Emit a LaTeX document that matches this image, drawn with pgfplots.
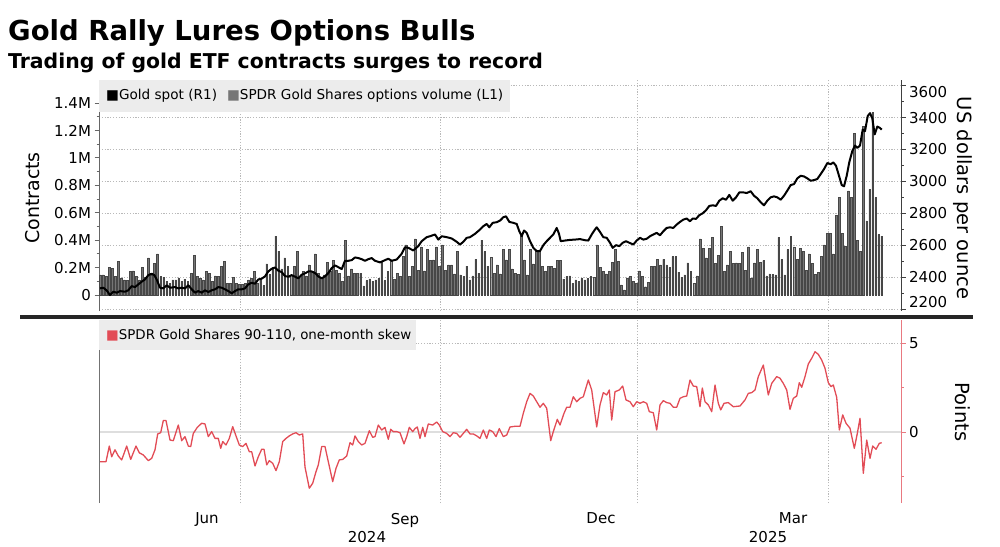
\documentclass[border=0pt]{standalone}
\usepackage{fontspec}
\setmainfont{DejaVu Sans}
\usepackage{pgfplots}
\usepackage{pgfplotstable}
\pgfplotsset{compat=1.18}
\definecolor{skewred}{RGB}{226,76,86}
\definecolor{legbg}{RGB}{236,236,236}
\definecolor{bargray}{RGB}{118,118,118}
\definecolor{gridgray}{RGB}{185,185,185}

% SPDR Gold Shares options volume (millions of contracts), one bar per trading day
\pgfplotstableread[row sep=\\]{v\\
0.146\\ 0.146\\ 0.134\\ 0.20\\ 0.195\\ 0.134\\ 0.244\\ 0.122\\ 0.11\\ 0.105\\
0.17\\ 0.176\\ 0.134\\ 0.11\\ 0.20\\ 0.13\\ 0.27\\ 0.146\\ 0.23\\ 0.30\\
0.134\\ 0.13\\ 0.10\\ 0.085\\ 0.11\\ 0.11\\ 0.12\\ 0.10\\ 0.115\\ 0.10\\
0.16\\ 0.29\\ 0.134\\ 0.12\\ 0.11\\ 0.17\\ 0.16\\ 0.10\\ 0.14\\ 0.134\\
0.21\\ 0.244\\ 0.085\\ 0.085\\ 0.127\\ 0.085\\ 0.078\\ 0.078\\ 0.085\\ 0.11\\
0.12\\ 0.17\\ 0.085\\ 0.115\\ 0.068\\ 0.227\\ 0.15\\ 0.20\\ 0.43\\ 0.32\\
0.19\\ 0.27\\ 0.21\\ 0.146\\ 0.21\\ 0.32\\ 0.134\\ 0.17\\ 0.14\\ 0.22\\
0.17\\ 0.30\\ 0.16\\ 0.12\\ 0.146\\ 0.24\\ 0.17\\ 0.25\\ 0.18\\ 0.16\\
0.10\\ 0.40\\ 0.14\\ 0.19\\ 0.16\\ 0.16\\ 0.16\\ 0.066\\ 0.105\\ 0.117\\
0.10\\
0.11\\ 0.12\\ 0.244\\ 0.105\\ 0.17\\ 0.244\\ 0.115\\ 0.16\\ 0.134\\ 0.28\\
0.366\\ 0.134\\ 0.21\\ 0.41\\ 0.18\\ 0.35\\ 0.175\\ 0.33\\ 0.25\\ 0.256\\
0.35\\ 0.21\\ 0.366\\ 0.178\\ 0.22\\ 0.22\\ 0.154\\ 0.317\\ 0.146\\ 0.134\\
0.21\\ 0.11\\ 0.14\\ 0.26\\ 0.16\\ 0.40\\ 0.317\\ 0.21\\ 0.276\\ 0.16\\
0.22\\ 0.154\\ 0.33\\ 0.256\\ 0.33\\ 0.19\\ 0.16\\ 0.15\\ 0.43\\ 0.256\\
0.146\\ 0.33\\ 0.227\\ 0.324\\ 0.324\\ 0.21\\ 0.17\\ 0.21\\ 0.21\\ 0.195\\
0.25\\ 0.25\\ 0.115\\ 0.134\\ 0.14\\ 0.085\\ 0.11\\ 0.10\\ 0.12\\ 0.11\\
0.12\\ 0.134\\ 0.127\\ 0.366\\ 0.20\\ 0.17\\ 0.154\\ 0.17\\ 0.24\\ 0.334\\
0.244\\ 0.073\\ 0.037\\ 0.12\\ 0.134\\ 0.10\\ 0.085\\ 0.175\\ 0.134\\ 0.06\\
0.09\\
0.21\\ 0.21\\ 0.26\\ 0.22\\ 0.26\\ 0.22\\ 0.20\\ 0.28\\ 0.28\\ 0.166\\
0.13\\ 0.146\\ 0.234\\ 0.17\\ 0.085\\ 0.14\\ 0.41\\ 0.34\\ 0.27\\ 0.34\\
0.42\\ 0.23\\ 0.29\\ 0.50\\ 0.17\\ 0.22\\ 0.32\\ 0.23\\ 0.234\\ 0.23\\
0.31\\ 0.18\\ 0.35\\ 0.12\\ 0.234\\ 0.33\\ 0.24\\ 0.25\\ 0.14\\ 0.154\\
0.15\\ 0.146\\ 0.42\\ 0.26\\ 0.146\\ 0.33\\ 0.43\\ 0.35\\ 0.26\\ 0.34\\
0.32\\ 0.18\\ 0.30\\ 0.23\\ 0.15\\ 0.166\\ 0.28\\ 0.366\\ 0.45\\ 0.45\\
0.30\\ 0.58\\ 0.71\\ 0.45\\ 0.354\\ 0.76\\ 0.71\\ 1.18\\ 0.40\\ 0.32\\
1.23\\ 0.54\\ 0.77\\ 1.33\\ 0.71\\ 0.44\\ 0.43\\
}\barsdata

\begin{document}
\begin{tikzpicture}
\begin{scope}[x=1pt,y=1pt]
\path[use as bounding box] (0,0) rectangle (1000,545);
\node[anchor=base west, inner sep=0pt] at (8,504) {\fontsize{27.5}{30}\selectfont\bfseries Gold Rally Lures Options Bulls};
\node[anchor=base west, inner sep=0pt] at (8,476) {\fontsize{20.4}{23}\selectfont\bfseries Trading of gold ETF contracts surges to record};
\end{scope}

\pgfplotsset{
  panel/.style={anchor=south west, scale only axis, width=802pt, xmin=99, xmax=901,
    tick align=outside, major tick length=4.5pt, minor tick length=2.5pt,
    tick label style={font=\fontsize{15}{15}\selectfont},
    grid style={gridgray, line width=0.7pt, dash pattern=on 1.2pt off 1.6pt}},
}

% top panel: right scale, grid and ticks
\begin{axis}[panel, at={(99pt,234pt)}, height=231pt, ymin=2187, ymax=3636,
  axis x line*=bottom, axis y line*=right,
  x axis line style={draw=none}, y axis line style={black!75, line width=0.8pt},
  xtick={240,440,637,828}, xticklabels={}, x tick style={draw=none},
  xmajorgrids, ymajorgrids,
  ytick={2200,2400,2600,2800,3000,3200,3400,3600},
  yticklabels={,2400,2600,2800,3000,3200,3400,},
  minor y tick num=1, y tick style={black!75, line width=0.8pt}]
\addplot[draw=none] coordinates {(100,2300)};
\end{axis}

% top panel: options volume bars, left scale
\begin{axis}[panel, at={(99pt,234pt)}, height=231pt, ymin=-0.117, ymax=1.568,
  axis x line*=bottom, axis y line*=left,
  x axis line style={draw=none}, y axis line style={black!60, line width=0.8pt},
  xtick=\empty,
  ytick={0,0.2,0.4,0.6,0.8,1,1.2,1.4},
  yticklabels={0,0.2M,0.4M,0.6M,0.8M,1M,1.2M,1.4M},
  minor y tick num=1, y tick style={black!60, line width=0.8pt}]
\addplot[ybar, bar width=1.7, fill=bargray, draw=black!72, line width=0.45pt]
  table[x expr={100+3.03*\coordindex}, y=v] {\barsdata};
\end{axis}

% top panel: gold spot line, right scale
\begin{axis}[panel, at={(99pt,234pt)}, height=231pt, ymin=2187, ymax=3636, hide axis]
\addplot[black, line width=2.0pt, line join=round] coordinates {
(100,2329) (103.3,2333) (106.7,2316) (110,2287) (113.3,2308) (116.7,2302) (120,2312) (125,2308) (128.3,2317) (131.7,2343)
(135,2337) (138.3,2354) (141.7,2371) (145,2385) (148.3,2412) (151.7,2421) (154.3,2412) (156.7,2385) (160,2333) (163.3,2329)
(166.7,2348) (170,2333) (175,2337) (178.3,2329) (181.7,2333) (185,2329) (188.3,2348) (191.7,2323) (195,2302) (198.3,2312)
(201.7,2302) (205,2317) (208.3,2306) (211.7,2317) (215,2323) (218.3,2337) (221.7,2333) (225,2323) (228.3,2312) (231.7,2298)
(235,2312) (238.3,2323) (241.7,2323) (245,2329) (248.3,2354) (251.7,2364) (255,2358) (258.3,2385) (261.7,2390) (265,2404)
(268.3,2435) (271.7,2452) (275,2460) (278.3,2440) (281.7,2431) (285,2406) (288.3,2402) (291.7,2412) (295,2402) (298.3,2392)
(301.7,2415) (305,2423) (308.3,2435) (311.7,2435) (315,2425) (318.3,2404) (321.7,2392) (325,2404) (328.3,2425) (331.7,2456)
(335,2473) (338.3,2462) (341.7,2450) (345,2502) (348.3,2502) (351.7,2506) (355,2523) (358.3,2519) (361.7,2512) (365,2502)
(368.3,2512) (371.7,2519) (375,2502) (380,2492) (385,2506) (388.3,2515) (391.7,2502) (396.7,2510) (401.7,2546) (405,2587)
(408.3,2583) (413.3,2567) (418.3,2594) (421.7,2625) (426.7,2650) (430,2656) (435,2667) (438.3,2635) (441.7,2656) (446.7,2650)
(451.7,2642) (456.7,2621) (460,2604) (463.3,2621) (466.7,2646) (470,2650) (475,2671) (480,2698) (483.3,2719) (486.7,2733)
(489.3,2712) (492.7,2740) (496.7,2744) (500,2754) (503.3,2775) (506,2781) (509.3,2746) (513.3,2740) (516.7,2733) (519.3,2687)
(521.7,2656) (524,2692) (526.7,2677) (530,2625) (533.3,2583) (536.7,2563) (540,2563) (543.3,2600) (546.7,2625) (550,2646)
(553.3,2667) (556.7,2708) (559,2671) (560.7,2625) (565,2629) (570,2633) (575,2635) (580,2638) (585,2631) (588.3,2629)
(591.7,2667) (595,2698) (596.7,2712) (600,2683) (603.3,2650) (606.7,2646) (610,2615) (612.7,2583) (616,2600) (619.3,2594)
(622.7,2615) (626,2625) (629.3,2615) (633.3,2604) (636.7,2629) (640,2646) (643.3,2635) (646.7,2640) (650,2656) (653.3,2667)
(656.7,2677) (660,2662) (663.3,2687) (666.7,2708) (670,2712) (673.3,2708) (676.7,2729) (680,2746) (683.3,2760) (686.7,2767)
(690,2750) (692.7,2767) (696,2765) (699.3,2788) (702.7,2800) (706,2819) (709.3,2846) (712.7,2850) (716,2846) (719.3,2879)
(722.7,2894) (726,2885) (729.3,2915) (732.7,2879) (736,2900) (739.3,2931) (743.3,2931) (746.7,2927) (750.7,2938) (754,2910)
(757.3,2894) (760.7,2869) (764,2850) (767.3,2879) (770.7,2900) (774,2906) (777.3,2900) (780.7,2885) (784,2910) (787.3,2942)
(790.7,2977) (794,2983) (797.3,3019) (800.7,3035) (804,3031) (807.3,3019) (810.7,3004) (814,3008) (817.3,3015) (820.7,3046)
(824,3077) (827.3,3115) (830.7,3108) (833.3,3119) (836,3098) (839,3035) (841.7,2977) (844,2969) (846.7,3035) (849.3,3121)
(852.3,3190) (855,3225) (857.3,3210) (860,3225) (862.7,3325) (865,3315) (867.7,3410) (870,3428) (872.3,3395) (874.7,3295)
(877.3,3344) (880,3335) (881.7,3325)
};
\end{axis}

% bottom panel: skew
\begin{axis}[panel, at={(99pt,42pt)}, height=183pt, ymin=-3.99, ymax=6.29,
  axis x line*=bottom, axis y line*=right,
  x axis line style={draw=none}, y axis line style={skewred!75, line width=0.8pt},
  xtick={207,405,601,793}, xticklabels={Jun,Sep,Dec,Mar}, x tick style={draw=none},
  xticklabel style={yshift=-2pt},
  extra x ticks={240,440,637,828}, extra x tick labels={},
  extra x tick style={grid=major},
  ytick={5}, yticklabels={5}, ymajorgrids,
  extra y ticks={0}, extra y tick labels={0},
  extra y tick style={grid=major, grid style={solid, black!13, line width=1.3pt}},
  minor ytick={-2.5,2.5},
  y tick style={skewred!75, line width=0.8pt}]
\addplot[skewred, line width=1.3pt, line join=round] coordinates {
(100,-1.67) (106,-1.67) (109.3,-0.79) (111.7,-1.39) (115,-1.0) (118.3,-1.35) (121.7,-1.57) (126.7,-0.79) (130.7,-1.54) (136,-0.79)
(139.3,-1.17) (143.3,-1.29) (148.3,-1.61) (151.7,-1.48) (155,-1.0) (157.7,-0.11) (160.7,-0.04) (163.3,0.64) (166,0.64) (170,-0.45)
(173.3,-0.49) (178.3,0.39) (181.7,-0.49) (185,-0.26) (188.3,-0.79) (190.7,-0.82) (193.3,-0.08) (197.3,0.26) (201.7,0.49) (205,0.45)
(208.3,-0.26) (211.7,0.02) (215,-0.36) (218.3,-0.36) (220.7,-0.92) (222.7,-0.54) (226,-0.73) (229.3,-0.36) (232.7,0.30) (236,-0.22)
(239.3,-0.73) (242.7,-0.82) (246,-0.64) (249.3,-1.11) (251.7,-1.11) (255,-1.91) (258.3,-1.39) (261.7,-0.97) (264,-0.97) (266.7,-1.85)
(269.3,-1.61) (272.7,-1.76) (276,-2.17) (279.3,-1.67) (282.7,-0.54) (286,-0.36) (289.3,-0.22) (292.7,-0.11) (296,-0.04) (299.3,-0.17)
(302.7,-0.11) (305,-1.97) (309.3,-3.16) (312.7,-2.88) (316,-2.23) (318.3,-1.85) (321.7,-0.82) (325,-0.82) (328.3,-1.67) (332.7,-2.79)
(336,-2.04) (339.3,-1.57) (342.7,-1.54) (346.7,-1.35) (350,-0.60) (352.7,-0.73) (355,-0.22) (358.3,-0.54) (361.7,-0.73) (365,-0.64)
(369.3,0.07) (372.7,-0.30) (375,-0.26) (378.3,0.39) (381.7,0.11) (385,0.26) (388.3,-0.41) (390.7,0.15) (393.3,0.02) (396.7,0.02)
(400,-0.04) (404,-0.67) (406.7,-0.26) (409.3,0.26) (412.7,0.02) (415,0.19) (417.3,0.28) (420,-0.36) (422.7,0.26) (425,-0.26)
(428.3,0.45) (432.7,0.39) (436.7,0.56) (439.3,0.39) (442.7,0.02) (446.7,-0.08) (450,-0.26) (453.3,-0.04) (456.7,-0.08) (460,-0.30)
(463.3,-0.08) (466.7,0.15) (470,-0.11) (473.3,-0.11) (476.7,-0.22) (480,-0.36) (483.3,0.11) (486.7,-0.36) (489.3,0.11) (492.7,0.02)
(496,-0.26) (499.3,0.19) (503.3,-0.26) (506.7,-0.17) (510,0.28) (515,0.32) (520,0.32) (523.3,1.05) (526.7,1.70) (530,2.17)
(533.3,2.02) (536.7,1.70) (540,1.39) (543.3,1.61) (546.7,1.33) (550.7,-0.49) (553.3,0.02) (557.3,0.71) (560,0.39) (564,1.05)
(566.7,1.39) (570,1.39) (573.3,1.98) (576.7,1.70) (580,1.89) (583.3,1.98) (588.3,2.92) (591.7,2.36) (596.7,0.28) (600,1.52)
(603.3,2.21) (606.7,2.08) (609.3,2.36) (611.7,0.67) (615,2.26) (619.3,2.36) (622.7,2.58) (626,1.80) (630,1.70) (633.3,1.42)
(636.7,1.70) (640,1.61) (643.3,1.70) (646.7,1.61) (649.3,1.14) (653.3,1.08) (656.7,0.11) (660,1.52) (663.3,1.76) (666.7,1.65)
(670,1.61) (673.3,1.39) (676.7,1.39) (680,1.89) (683.3,1.98) (686.7,2.02) (690,2.92) (693.3,2.58) (696.7,2.55) (700,1.42)
(702.3,2.47) (705,1.70) (708.3,1.52) (711.7,1.14) (715,2.64) (718.3,1.61) (720.7,1.24) (724,1.61) (728.3,1.65) (733.3,1.42)
(740,1.46) (745,1.80) (748.3,2.17) (751.7,2.21) (755,2.36) (758.3,3.11) (763.3,3.76) (768.3,2.08) (771.7,2.73) (776.7,3.11)
(780,3.02) (783.3,2.73) (786.7,2.36) (790,1.27) (793.3,1.89) (796.7,2.02) (799.3,2.77) (801.7,2.51) (805,3.11) (808.3,3.82)
(811.7,4.14) (815,4.51) (818.3,4.36) (821.7,4.04) (825,3.58) (828.3,2.77) (831,2.55) (833.3,2.64) (836.7,1.94) (839.3,0.11)
(842.7,0.96) (846,0.49) (850,0.21) (854.3,-0.92) (857.3,-0.08) (860,0.77) (863.3,-2.32) (866.7,-0.45) (870,-1.48) (872.7,-0.79)
(876,-0.97) (879.3,-0.64) (881.7,-0.60)
};
\end{axis}

\begin{scope}[x=1pt,y=1pt]
% end labels of the right price scale, set inside the panel as in the original
\node[anchor=west, font=\fontsize{15}{15}\selectfont] at (905.5,453) {3600};
\node[anchor=west, font=\fontsize{15}{15}\selectfont] at (905.5,243) {2200};
% left edge of the lower panel
\draw[black!55, line width=0.8pt] (99,42) -- (99,225);
% separator between panels
\draw[black!85, line width=4pt] (20,228.5) -- (973,228.5);
% legends
\fill[legbg] (99,433) rectangle (510,465);
\node[anchor=west, inner sep=0pt] at (106,449) {\fontsize{13.6}{14}\selectfont\textcolor{black}{■}Gold spot (R1)\hspace{10pt}\textcolor{bargray}{■}SPDR Gold Shares options volume (L1)};
\fill[legbg] (99,195) rectangle (416,225);
\node[anchor=west, inner sep=0pt] at (106,210) {\fontsize{13.4}{14}\selectfont\textcolor{skewred}{■}SPDR Gold Shares 90-110, one-month skew};
% axis titles
\node[rotate=90] at (33,347) {\fontsize{19}{19}\selectfont Contracts};
\node[rotate=-90] at (963,347) {\fontsize{19.5}{19.5}\selectfont US dollars per ounce};
\node[rotate=-90] at (963,133) {\fontsize{19.5}{19.5}\selectfont Points};
% year labels
\node at (367,8) {\fontsize{15}{15}\selectfont 2024};
\node at (768,8) {\fontsize{15}{15}\selectfont 2025};
\end{scope}
\end{tikzpicture}
\end{document}
